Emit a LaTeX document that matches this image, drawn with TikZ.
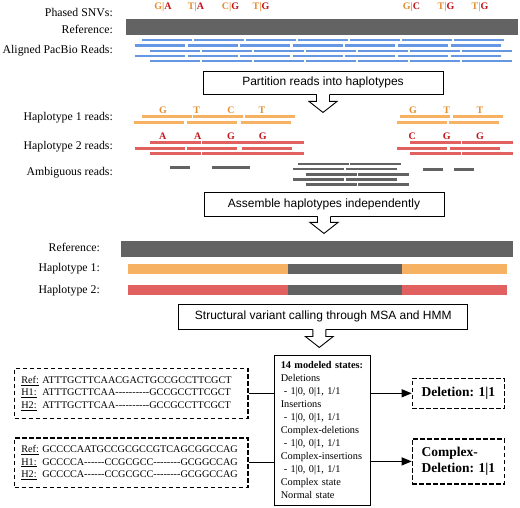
\documentclass[tikz,border=0pt]{standalone}
\usepackage{fontspec}
\setmainfont{Liberation Serif}
\setsansfont{Liberation Sans}
\usetikzlibrary{arrows.meta, positioning}
\definecolor{readBlue}{RGB}{102, 151, 226}
\definecolor{hapOrange}{RGB}{246, 178, 98}
\definecolor{hapRed}{RGB}{225, 97, 97}
\definecolor{refGray}{RGB}{99, 99, 99}
\definecolor{snvOrange}{RGB}{228, 142, 48}
\definecolor{snvRed}{RGB}{196, 18, 22}
\newcommand{\gapd}[1]{\foreach \k in {1,...,#1}{-\kern0pt}}

\begin{document}
\begin{tikzpicture}[x=1pt, y=-1pt,
  lbl/.style={anchor=east, inner sep=0pt, font=\fontsize{11.8}{14}\selectfont},
  stage/.style={draw, line width=0.9pt, inner sep=0pt, font=\sffamily\fontsize{12}{14}\selectfont},
  snv/.style={inner sep=0pt, font=\bfseries\fontsize{10}{12}\selectfont},
  read/.style={line width=2.8pt},
  dbox/.style={draw, dash pattern=on 4.5pt off 2.5pt, line width=1.2pt, align=left, anchor=north west, inner ysep=0pt},
  call/.style={dbox, minimum width=92.3pt, inner xsep=0pt, font=\bfseries\fontsize{13.5}{15.7}\selectfont},
  pics/hollowarrow/.style={code={
    \fill[white] (-6.5,-#1-0.7) rectangle (6.5,-10);
    \draw[line width=0.9pt, fill=white] (-6.5,-#1) -- (-6.5,-11) -- (-14,-11) -- (0,0) -- (14,-11) -- (6.5,-11) -- (6.5,-#1);
  }}]
  \useasboundingbox (0,0) rectangle (520,508);

  % row labels
  \node[lbl] (lsnv) at (113,12) {Phased SNVs:};
  \node[lbl] (lref) at (113,29.5) {Reference:};
  \node[lbl] (lpac) at (113,51) {Aligned PacBio Reads:};
  \node[lbl] (lh1) at (113,118) {Haplotype 1 reads:};
  \node[lbl] (lh2) at (113,146.7) {Haplotype 2 reads:};
  \node[lbl] (lamb) at (113,173) {Ambiguous reads:};
  \node[lbl] (lref2) at (100,247) {Reference:};
  \node[lbl] (lhap1) at (100,268.5) {Haplotype 1:};
  \node[lbl] (lhap2) at (100,290.5) {Haplotype 2:};

  % phased SNVs and aligned reads
  \foreach \x/\a/\b [count=\i] in {163/G/A, 196/T/A, 230.5/C/G, 261/T/G, 411.5/G/C, 446/T/G, 480/T/G}
    \node[snv] (snv\i) at (\x,7) {\textcolor{snvOrange}{\a|}\textcolor{snvRed}{\b}};
  \fill[refGray] (126,19.5) rectangle (518,35.5);
  \foreach \y/\s/\d in {40/142/52, 45.5/135/52.6, 51/150/52, 56/135/52.6, 61/150/52}
    \foreach \k in {0,...,6}
      \draw[read, readBlue] (\s+\k*\d,\y) -- ++(50,0);

  \node[stage, minimum width=240pt, minimum height=23pt] (part) at (323,82.5) {Partition reads into haplotypes};
  \path (part.south) ++(0,18) pic {hollowarrow=18};

  % haplotype 1 reads
  \foreach \s in {142,193,245,400,453}
    \draw[read, hapOrange] (\s,116.7) -- ++(50,0);
  \foreach \s in {134,186.5,240.5,396.7,449}
    \draw[read, hapOrange] (\s,122.3) -- ++(50,0);
  \foreach \x/\c [count=\i] in {163/G, 196.7/T, 231/C, 262/T, 413/G, 446.7/T, 480/T}
    \node[snv, snvOrange] (ha\i) at (\x,110) {\c};

  % haplotype 2 reads
  \foreach \y in {142.7,153.3}
    \foreach \s in {150,202,253,410,462}
      \draw[read, hapRed] (\s,\y) -- ++(51,0);
  \foreach \s in {135,187,241.7,397.3,450}
    \draw[read, hapRed] (\s,148.3) -- ++(50,0);
  \foreach \x/\c [count=\i] in {162.7/A, 197.7/A, 231/G, 262.7/G, 412.3/C, 446.7/G, 480/G}
    \node[snv, snvRed] (hb\i) at (\x,136.5) {\c};

  % ambiguous reads
  \foreach \a/\b/\y in {170/190/167.7, 211.7/250/167.7, 422.7/442.7/169.3, 454/474/169.3}
    \draw[read, refGray] (\a,\y) -- (\b,\y);
  \foreach \y/\s in {164/297.7, 169/293.3, 174.3/305.7, 179.7/293.3, 184.7/305.7}
    \foreach \k in {0,1}
      \draw[read, refGray] (\s+\k*52.5,\y) -- ++(51,0);

  \node[stage, minimum width=240pt, minimum height=24pt] (asm) at (324,204) {Assemble haplotypes independently};
  \path (asm.south) ++(0,17) pic {hollowarrow=17};

  % assembled haplotypes
  \fill[refGray] (121,241) rectangle (513,257);
  \fill[hapOrange] (128.3,264.3) rectangle (506.7,274);
  \fill[hapRed] (128.3,285) rectangle (506.7,295);
  \fill[refGray] (287.7,264.3) rectangle (402.3,274);
  \fill[refGray] (287.7,285) rectangle (402.3,295);

  \node[stage, minimum width=289pt, minimum height=25pt] (svc) at (323.3,316.5) {Structural variant calling through MSA and HMM};
  \path (svc.south) ++(-4,18) pic {hollowarrow=18};

  % HMM states
  \node[draw, line width=0.9pt, anchor=north west, minimum height=150pt, text width=84pt, inner xsep=6pt,
    align=left, font=\fontsize{10.3}{13}\selectfont] (states) at (274.3,355)
    {\textbf{14 modeled states:}\\ Deletions\\ \hspace*{3pt}- 1|0, 0|1, 1/1\\ Insertions\\ \hspace*{3pt}- 1|0, 0|1, 1/1\\
     Complex-deletions\\ \hspace*{3pt}- 1|0, 0|1, 1/1\\ Complex-insertions\\ \hspace*{3pt}- 1|0, 0|1, 1/1\\
     Complex state\\ Normal state};

  % alignments
  \node[dbox, minimum height=50pt, text width=219.9pt, inner xsep=6.7pt, font=\fontsize{10.2}{12.5}\selectfont] (seq1) at (14,367.7)
    {\makebox[21pt][l]{\underline{Ref:}}ATTTGCTTCAACGACTGCCGCCTTCGCT\\
     \makebox[21pt][l]{\underline{H1:}}ATTTGCTTCAA\gapd{10}GCCGCCTTCGCT\\
     \makebox[21pt][l]{\underline{H2:}}ATTTGCTTCAA\gapd{10}GCCGCCTTCGCT};
  \node[dbox, minimum height=49.4pt, text width=219.9pt, inner xsep=6.7pt, font=\fontsize{10.2}{12.5}\selectfont] (seq2) at (14,437.3)
    {\makebox[21pt][l]{\underline{Ref:}}GCCCCAATGCCGCGCCGTCAGCGGCCAG\\
     \makebox[21pt][l]{\underline{H1:}}GCCCCA\gapd{6}CCGCGCC\gapd{8}GCGGCCAG\\
     \makebox[21pt][l]{\underline{H2:}}GCCCCA\gapd{6}CCGCGCC\gapd{8}GCGGCCAG};

  % calls
  \node[call, minimum height=30pt] (res1) at (411.7,377.7) {Deletion: 1|1};
  \node[call, minimum height=45pt] (res2) at (411.7,438.3) {Complex-\\Deletion: 1|1};

  \draw[line width=0.9pt] (seq1.east) -- (seq1.east -| states.west);
  \draw[line width=0.9pt] (seq2.east) -- (seq2.east -| states.west);
  \draw[line width=1.1pt, -{Triangle[length=10pt, width=8pt]}] (states.east |- res1.west) -- (res1.west);
  \draw[line width=1.1pt, -{Triangle[length=10pt, width=8pt]}] (states.east |- res2.west) -- (res2.west);
\end{tikzpicture}
\end{document}
